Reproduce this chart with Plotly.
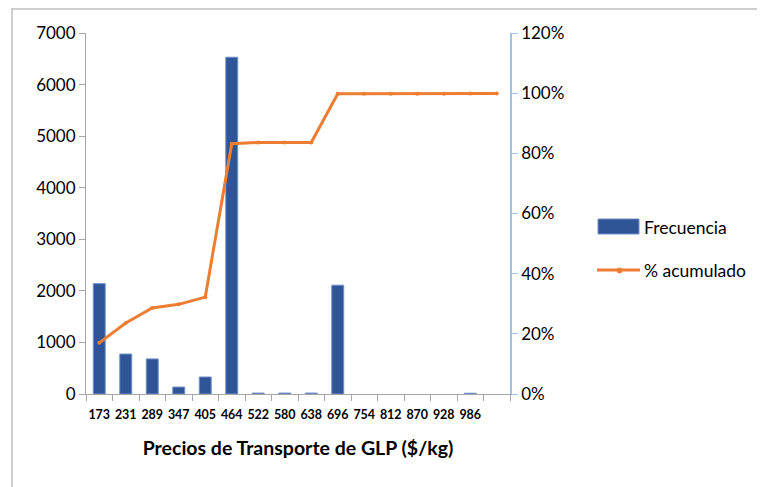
import plotly.graph_objects as go

categorias = ["173", "231", "289", "347", "405", "464", "522", "580", "638",
              "696", "754", "812", "870", "928", "986", "y mayor..."]
etiquetas_x = ["173", "231", "289", "347", "405", "464", "522", "580", "638",
               "696", "754", "812", "870", "928", "986", ""]
frecuencia = [2140, 775, 680, 135, 330, 6530, 18, 18, 18, 2110, 0, 0, 0, 0, 15, 0]
acumulado = [0.170, 0.236, 0.286, 0.298, 0.322, 0.832, 0.836, 0.836, 0.836,
             0.998, 0.998, 0.998, 0.998, 0.998, 0.999, 0.999]
nombres_series = ["Frecuencia", "% acumulado"]

FONT = "Lato"
BAR_COLOR = "#2F5597"
LINE_COLOR = "#ED7D31"

# page body has an 8px default margin; the figure is offset by it
OFF = 8
W, H = 765 - OFF, 487 - OFF
# plot area geometry in screenshot pixels
PL, PR, PT, PB = 86, 510, 33, 394
def px(x):
    return (x - PL) / (PR - PL)
def py(y):
    return (PB - y) / (PB - PT)

fig = go.Figure()
fig.add_trace(go.Bar(
    x=categorias, y=frecuencia, name=nombres_series[0],
    marker=dict(color=BAR_COLOR,
                line=dict(color="#6F8FCB",
                          width=[1 if v > 0 else 0 for v in frecuencia])),
    showlegend=False, yaxis="y",
))
fig.add_trace(go.Scatter(
    x=categorias, y=acumulado, name=nombres_series[1], mode="lines+markers",
    line=dict(color=LINE_COLOR, width=3),
    marker=dict(color=LINE_COLOR, size=4),
    showlegend=False, yaxis="y2", cliponaxis=False,
))

shapes = [
    dict(type="rect", xref="paper", yref="paper",
         x0=px(12), x1=2.0, y0=-0.6, y1=py(9),
         line=dict(color="#BFBFBF", width=1.5), layer="below"),
    # legend keys
    dict(type="rect", xref="paper", yref="paper",
         x0=px(598), x1=px(639), y0=py(234), y1=py(219),
         fillcolor=BAR_COLOR, line=dict(color="#6F8FCB", width=1)),
    dict(type="line", xref="paper", yref="paper",
         x0=px(597), x1=px(640), y0=py(270), y1=py(270),
         line=dict(color=LINE_COLOR, width=3)),
    dict(type="circle", xref="paper", yref="paper",
         x0=px(617), x1=px(622), y0=py(273), y1=py(268),
         fillcolor=LINE_COLOR, line=dict(color=LINE_COLOR, width=1)),
]
annotations = [
    dict(text=nombres_series[0], xref="paper", yref="paper",
         x=px(642), y=py(227), xanchor="left", yanchor="middle", showarrow=False,
         font=dict(family=FONT, size=17.5, color="#000000")),
    dict(text=nombres_series[1], xref="paper", yref="paper",
         x=px(642), y=py(270), xanchor="left", yanchor="middle", showarrow=False,
         font=dict(family=FONT, size=17.5, color="#000000")),
]

fig.update_layout(
    width=W, height=H,
    margin=dict(l=PL - OFF, r=W - (PR - OFF), t=PT - OFF, b=H - (PB - OFF)),
    paper_bgcolor="white", plot_bgcolor="white",
    bargap=0.55,
    font=dict(family=FONT, size=17, color="#000000"),
    showlegend=False,
    xaxis=dict(
        type="category", categoryorder="array", categoryarray=categorias,
        range=[-0.5, len(categorias) - 0.5],
        tickvals=categorias, ticktext=etiquetas_x,
        showline=True, linecolor="#A6A6A6", linewidth=1,
        ticks="outside", tickson="boundaries", ticklen=6, tickcolor="#A6A6A6",
        showgrid=False, zeroline=False, tickangle=0, automargin=False,
        ticklabelstandoff=9,
        tickfont=dict(family=FONT, size=12.5, color="#000000", weight="bold"),
        title=dict(text="Precios de Transporte de GLP ($/kg)",
                   font=dict(family=FONT, size=19.5, color="#000000", weight="bold"),
                   standoff=20),
    ),
    yaxis=dict(
        range=[0, 7000], tickvals=[0, 1000, 2000, 3000, 4000, 5000, 6000, 7000],
        showline=True, linecolor="#A6A6A6", linewidth=1, automargin=False,
        ticks="outside", ticklen=6, tickcolor="#A6A6A6",
        showgrid=False, zeroline=False,
        tickfont=dict(family=FONT, size=17, color="#000000"),
    ),
    yaxis2=dict(
        range=[0, 1.2], tickvals=[0, 0.2, 0.4, 0.6, 0.8, 1.0, 1.2],
        tickformat=".0%", overlaying="y", side="right", automargin=False,
        showline=True, linecolor="#9DC3E6", linewidth=1.5,
        ticks="outside", ticklen=6, tickcolor="#9DC3E6",
        showgrid=False, zeroline=False,
        tickfont=dict(family=FONT, size=17, color="#000000"),
    ),
    shapes=shapes,
    annotations=annotations,
)

fig.write_html("out.html")
